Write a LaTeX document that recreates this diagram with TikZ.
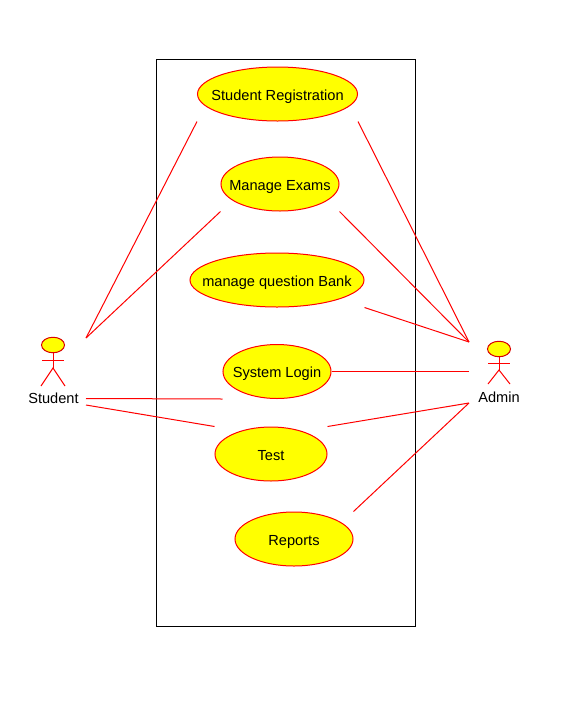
\documentclass[tikz,border=0pt]{standalone}
\usepackage{fontspec}
\setmainfont{Liberation Sans}
\usetikzlibrary{shapes.geometric}
\definecolor{ucyellow}{RGB}{255,255,0}
\newcommand{\uclabel}[1]{\raisebox{-6pt}[0pt][0pt]{\makebox[0pt]{#1}}}
\tikzset{
  usecase/.style={ellipse,draw=red,fill=ucyellow,line width=1pt,inner sep=0pt,font=\fontsize{14.6}{16}\selectfont},
  actorhead/.style={ellipse,draw=red!85!black,fill=ucyellow,line width=1pt,inner sep=0pt,minimum width=23,minimum height=15.5},
  actorname/.style={inner sep=0pt,font=\fontsize{14.6}{16}\selectfont},
  wire/.style={red,line width=1pt}
}
\begin{document}
\begin{tikzpicture}[x=1pt,y=-1pt]
  \useasboundingbox (0,0) rectangle (562,705);

  % Marco del sistema
  \node[draw=black,line width=1pt,minimum width=259,minimum height=567,inner sep=0pt] (sys) at (285.5,342.5) {};

  % Casos de uso
  \node[usecase,minimum width=160,minimum height=54] (reg) at (277.5,94) {\uclabel{Student Registration}};
  \node[usecase,minimum width=118,minimum height=54] (exams) at (280,184) {\uclabel{Manage Exams}};
  \node[usecase,minimum width=174,minimum height=54] (bank) at (277,280) {\uclabel{manage question Bank}};
  \node[usecase,minimum width=108,minimum height=54] (login) at (277,371.5) {\uclabel{System Login}};
  \node[usecase,minimum width=112,minimum height=54] (test) at (271,454) {\uclabel{Test}};
  \node[usecase,minimum width=118,minimum height=54] (reports) at (294,539) {\uclabel{Reports}};

  % Actores
  \node[actorhead] (student) at (53,345) {};
  \node[actorname] (studentname) at (53.5,398) {Student};
  \node[actorhead] (admin) at (499,349) {};
  \node[actorname] (adminname) at (499,397) {Admin};

  \coordinate (studentneck) at (53,353);
  \coordinate (studenthip) at (53,368);
  \coordinate (studentarml) at (42,360);
  \coordinate (studentarmr) at (64,360);
  \coordinate (studentlegl) at (41,386);
  \coordinate (studentlegr) at (65,386);
  \coordinate (adminneck) at (499,357);
  \coordinate (adminhip) at (499,370);
  \coordinate (adminarml) at (488,363);
  \coordinate (adminarmr) at (510,363);
  \coordinate (adminlegl) at (488,384);
  \coordinate (adminlegr) at (510,384);

  \foreach \who in {student,admin}{
    \draw[wire] (\who neck) -- (\who hip);
    \draw[wire] (\who arml) -- (\who armr);
    \draw[wire] (\who legl) -- (\who hip) -- (\who legr);
  }

  % Extremos libres junto a los actores
  \coordinate (sa) at (86,338);
  \coordinate (sb) at (86,398.5);
  \coordinate (sc) at (86,405);
  \coordinate (aa) at (469,342);
  \coordinate (ab) at (469,371.5);
  \coordinate (ac) at (469,403);

  % Esquinas de las cajas de los casos de uso
  \foreach \n in {reg,exams,bank,login,test,reports}{
    \coordinate (\n-sw) at (\n.west |- \n.south);
    \coordinate (\n-se) at (\n.east |- \n.south);
    \coordinate (\n-nw) at (\n.west |- \n.north);
    \coordinate (\n-ne) at (\n.east |- \n.north);
  }

  % Asociaciones
  \foreach \from/\to in {sa/reg-sw, sa/exams-sw, sb/login-sw, sc/test-nw,
                         aa/reg-se, aa/exams-se, aa/bank-se, ab/login.east, ac/test-ne, ac/reports-ne}
    \draw[wire] (\from) -- (\to);
\end{tikzpicture}
\end{document}
